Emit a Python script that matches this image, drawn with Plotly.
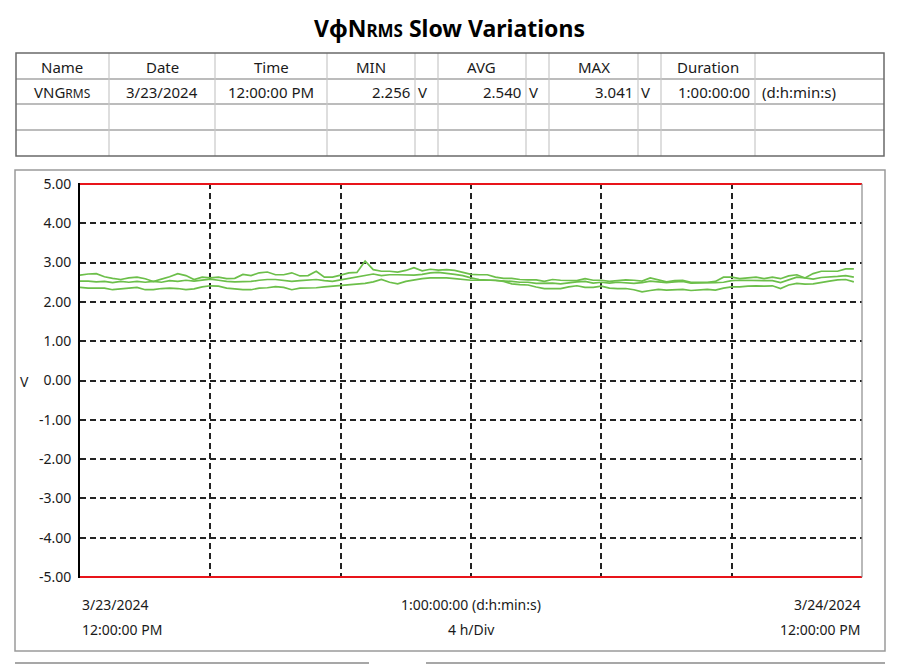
import plotly.graph_objects as go
import pandas as pd

W, H = 900, 664
OFF = 8  # the page body margin shifts the figure by this many pixels


def px(x):
    return (x - OFF) / W


def py(y):
    return 1 - (y - OFF) / H


# ---------------- data ----------------
start_time = "2024-03-23 12:00"
end_time = "2024-03-24 12:00"
times = pd.date_range(start_time, periods=96, freq="15min")

vmax = [2.68, 2.71, 2.72, 2.64, 2.60, 2.57, 2.61, 2.63, 2.59, 2.52,
        2.58, 2.64, 2.72, 2.67, 2.57, 2.63, 2.61, 2.63, 2.59, 2.60,
        2.70, 2.67, 2.74, 2.76, 2.69, 2.69, 2.74, 2.66, 2.67, 2.78,
        2.63, 2.63, 2.68, 2.74, 2.75, 3.041, 2.82, 2.78, 2.78, 2.76,
        2.80, 2.87, 2.79, 2.83, 2.81, 2.82, 2.80, 2.75, 2.70, 2.69,
        2.69, 2.63, 2.60, 2.60, 2.57, 2.56, 2.56, 2.52, 2.57, 2.55,
        2.55, 2.54, 2.59, 2.55, 2.55, 2.52, 2.54, 2.56, 2.55, 2.53,
        2.61, 2.55, 2.51, 2.54, 2.55, 2.50, 2.50, 2.50, 2.52, 2.63,
        2.63, 2.59, 2.61, 2.63, 2.59, 2.63, 2.59, 2.66, 2.69, 2.61,
        2.72, 2.78, 2.78, 2.78, 2.84, 2.84]

vavg = [2.53, 2.53, 2.51, 2.52, 2.49, 2.52, 2.50, 2.52, 2.50, 2.52,
        2.50, 2.54, 2.52, 2.55, 2.53, 2.55, 2.58, 2.55, 2.52, 2.51,
        2.52, 2.52, 2.55, 2.57, 2.57, 2.54, 2.52, 2.54, 2.55, 2.57,
        2.54, 2.52, 2.56, 2.60, 2.63, 2.68, 2.71, 2.67, 2.69, 2.69,
        2.69, 2.68, 2.70, 2.74, 2.75, 2.73, 2.70, 2.67, 2.61, 2.57,
        2.56, 2.55, 2.53, 2.52, 2.50, 2.50, 2.47, 2.47, 2.48, 2.46,
        2.49, 2.51, 2.52, 2.48, 2.50, 2.48, 2.50, 2.49, 2.47, 2.49,
        2.53, 2.51, 2.49, 2.51, 2.52, 2.48, 2.48, 2.48, 2.49, 2.50,
        2.54, 2.55, 2.55, 2.55, 2.55, 2.54, 2.49, 2.57, 2.63, 2.61,
        2.58, 2.62, 2.63, 2.65, 2.67, 2.63]

vmin = [2.37, 2.35, 2.35, 2.35, 2.31, 2.33, 2.35, 2.37, 2.31, 2.31,
        2.34, 2.35, 2.34, 2.31, 2.33, 2.38, 2.41, 2.40, 2.35, 2.33,
        2.31, 2.31, 2.35, 2.36, 2.39, 2.37, 2.31, 2.35, 2.35, 2.36,
        2.38, 2.40, 2.41, 2.43, 2.46, 2.47, 2.51, 2.57, 2.50, 2.46,
        2.52, 2.56, 2.59, 2.61, 2.61, 2.61, 2.59, 2.57, 2.55, 2.55,
        2.55, 2.55, 2.52, 2.46, 2.44, 2.43, 2.38, 2.34, 2.34, 2.34,
        2.38, 2.41, 2.37, 2.37, 2.40, 2.35, 2.34, 2.34, 2.31, 2.256,
        2.29, 2.32, 2.30, 2.31, 2.32, 2.29, 2.31, 2.32, 2.30, 2.35,
        2.38, 2.38, 2.40, 2.41, 2.40, 2.41, 2.34, 2.43, 2.47, 2.45,
        2.46, 2.50, 2.53, 2.56, 2.57, 2.51]

limit_hi = 5.0
limit_lo = -5.0

y_tick_values = [5, 4, 3, 2, 1, 0, -1, -2, -3, -4, -5]
y_tick_labels = ["5.00", "4.00", "3.00", "2.00", "1.00", "0.00",
                 "-1.00", "-2.00", "-3.00", "-4.00", "-5.00"]

table_headers = ["Name", "Date", "Time", "MIN", "AVG", "MAX", "Duration"]
row_name = "VNG<span style='font-size:12px'>RMS</span>"
row_date = "3/23/2024"
row_time = "12:00:00 PM"
row_min = "2.256"
row_avg = "2.540"
row_max = "3.041"
row_unit = "V"
row_duration = "1:00:00:00"
row_duration_unit = "(d:h:min:s)"

bottom_left = ["3/23/2024", "12:00:00 PM"]
bottom_mid = ["1:00:00:00 (d:h:min:s)", "4 h/Div"]
bottom_right = ["3/24/2024", "12:00:00 PM"]

# ---------------- style ----------------
FONT = "Noto Sans"
GREEN = "#6cbf4a"
TXT = "#1a1a1a"
GRID = "#222222"

fig = go.Figure()

for series in (vmax, vavg, vmin):
    fig.add_trace(go.Scatter(x=times, y=series, mode="lines",
                             line=dict(color=GREEN, width=1.7),
                             hoverinfo="skip", showlegend=False))

for lim in (limit_hi, limit_lo):
    fig.add_trace(go.Scatter(x=[start_time, end_time], y=[lim, lim], mode="lines",
                             line=dict(color="#e8141a", width=1.8),
                             hoverinfo="skip", showlegend=False))

# plot-area pixel geometry (in screenshot pixels)
PL, PR = 80, 862
PT, PB = 182.8, 578.2

fig.update_layout(
    template="none",
    width=W, height=H,
    margin=dict(l=0, r=0, t=0, b=0, pad=0),
    paper_bgcolor="white", plot_bgcolor="white",
    font=dict(family=FONT, size=14, color=TXT),
    xaxis=dict(domain=[px(PL), px(PR)], type="date",
               range=[start_time, end_time],
               tick0=start_time, dtick=4 * 3600 * 1000,
               showgrid=True, gridcolor=GRID, gridwidth=1.5, griddash="6px,4px",
               showticklabels=False, ticks="", zeroline=False, showline=False,
               automargin=False),
    yaxis=dict(domain=[py(PB), py(PT)], range=[-5.03, 5.03],
               tickvals=y_tick_values, ticktext=y_tick_labels,
               showgrid=True, gridcolor=GRID, gridwidth=1.5, griddash="6px,4px",
               zeroline=False, showline=True, linecolor="black", linewidth=2,
               ticks="", ticklabelstandoff=4, automargin=False,
               tickfont=dict(family=FONT, size=14, color=TXT)),
)

shapes = []
# chart panel box
shapes.append(dict(type="rect", xref="paper", yref="paper",
                   x0=px(15), x1=px(885), y0=py(651), y1=py(170),
                   line=dict(color="#9a9a9a", width=1.5)))
# right border of plot area
shapes.append(dict(type="line", xref="paper", yref="paper",
                   x0=px(PR), x1=px(PR), y0=py(PB - 1), y1=py(PT + 1),
                   line=dict(color="#8a8a8a", width=1.2)))

# table
TL, TR, TT, TB = 16, 884, 53, 156
for yy in (79, 104, 130):
    shapes.append(dict(type="line", xref="paper", yref="paper",
                       x0=px(TL), x1=px(TR), y0=py(yy), y1=py(yy),
                       line=dict(color="#7a7a7a", width=1.2)))
for xx in (109, 215, 327, 415, 438, 526, 549, 638, 661, 755):
    shapes.append(dict(type="line", xref="paper", yref="paper",
                       x0=px(xx), x1=px(xx), y0=py(TT), y1=py(TB),
                       line=dict(color="#c8c8c8", width=1.2)))
shapes.append(dict(type="rect", xref="paper", yref="paper",
                   x0=px(TL), x1=px(TR), y0=py(TB), y1=py(TT),
                   line=dict(color="#6a6a6a", width=1.5)))

# bottom panels (top edges only visible)
shapes.append(dict(type="line", xref="paper", yref="paper",
                   x0=px(15), x1=px(369), y0=py(663), y1=py(663),
                   line=dict(color="#8a8a8a", width=1.5)))
shapes.append(dict(type="line", xref="paper", yref="paper",
                   x0=px(426), x1=px(885), y0=py(663), y1=py(663),
                   line=dict(color="#8a8a8a", width=1.5)))

fig.update_layout(shapes=shapes)

ann = []


def text(x, y, s, anchor="center", size=15):
    ann.append(dict(xref="paper", yref="paper", x=px(x), y=py(y), text=s,
                    xanchor=anchor, yanchor="middle", showarrow=False,
                    font=dict(family=FONT, size=size, color=TXT)))


# title
ann.append(dict(xref="paper", yref="paper", x=px(449), y=py(28),
                text="<b>VφN<span style='font-size:17px'>RMS</span> Slow Variations</b>",
                xanchor="center", yanchor="middle", showarrow=False,
                font=dict(family=FONT, size=23, color="black")))

# table header
header_centers = [62, 162, 271, 371, 482, 594, 708]
for cx, h in zip(header_centers, table_headers):
    text(cx, 67, h)

# table row 1
R1 = 92
text(62, R1, row_name)
text(162, R1, row_date)
text(271, R1, row_time)
text(412, R1, row_min, anchor="right")
text(416, R1, row_unit, anchor="left")
text(523, R1, row_avg, anchor="right")
text(527, R1, row_unit, anchor="left")
text(635, R1, row_max, anchor="right")
text(639, R1, row_unit, anchor="left")
text(752, R1, row_duration, anchor="right")
text(760, R1, row_duration_unit, anchor="left")

# y axis title
text(24, 381, "V", size=14)

# bottom labels
text(PL, 604, bottom_left[0], anchor="left", size=14)
text(PL, 629, bottom_left[1], anchor="left", size=14)
text((PL + PR) / 2, 604, bottom_mid[0], size=14)
text((PL + PR) / 2, 629, bottom_mid[1], size=14)
text(PR, 604, bottom_right[0], anchor="right", size=14)
text(PR, 629, bottom_right[1], anchor="right", size=14)

fig.update_layout(annotations=ann)

fig.write_html("out.html")
